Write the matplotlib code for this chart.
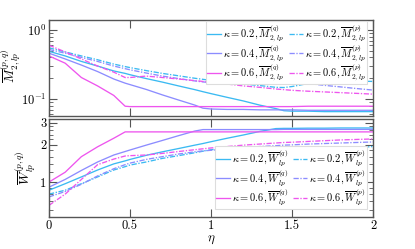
import numpy as np
import matplotlib
matplotlib.use("Agg")
import matplotlib.pyplot as plt
from matplotlib.ticker import FixedLocator, FixedFormatter, LogLocator, NullFormatter

plt.rcParams.update({
    "font.family": "serif",
    "font.serif": ["cmr10"],
    "mathtext.fontset": "cm",
    "axes.formatter.use_mathtext": True,
    "font.size": 9,
})

eta = [0, 0.1, 0.2, 0.3, 0.4, 0.47, 0.5, 0.6, 0.7, 0.8, 0.9, 0.95, 1.0,
       1.1, 1.2, 1.3, 1.4, 1.45, 1.5, 1.6, 1.7, 1.8, 1.9, 2.0]

# top panel: M_{2,lp}
M_q02 = [0.49, 0.42, 0.35, 0.30, 0.255, 0.235, 0.225, 0.198, 0.176, 0.155, 0.137, 0.128, 0.120,
         0.106, 0.094, 0.082, 0.073, 0.068, 0.067, 0.067, 0.066, 0.066, 0.066, 0.066]
M_q04 = [0.46, 0.38, 0.31, 0.25, 0.195, 0.17, 0.162, 0.138, 0.115, 0.097, 0.082, 0.074, 0.072,
         0.071, 0.071, 0.070, 0.070, 0.070, 0.070, 0.069, 0.069, 0.069, 0.069, 0.069]
M_q06 = [0.42, 0.33, 0.205, 0.155, 0.113, 0.079, 0.078, 0.078, 0.078, 0.078, 0.078, 0.078, 0.078,
         0.078, 0.078, 0.078, 0.078, 0.078, 0.078, 0.079, 0.079, 0.079, 0.079, 0.079]
M_p02 = [0.55, 0.48, 0.42, 0.37, 0.32, 0.295, 0.285, 0.258, 0.235, 0.217, 0.200, 0.193, 0.186,
         0.175, 0.165, 0.157, 0.148, 0.147, 0.152, 0.168, 0.178, 0.181, 0.182, 0.180]
M_p04 = [0.52, 0.46, 0.40, 0.35, 0.30, 0.275, 0.265, 0.238, 0.215, 0.198, 0.183, 0.177, 0.173,
         0.190, 0.205, 0.200, 0.190, 0.185, 0.178, 0.168, 0.158, 0.150, 0.142, 0.135]
M_p06 = [0.60, 0.48, 0.38, 0.30, 0.245, 0.205, 0.205, 0.215, 0.205, 0.195, 0.185, 0.180, 0.175,
         0.165, 0.155, 0.148, 0.140, 0.137, 0.134, 0.130, 0.127, 0.124, 0.121, 0.118]

# bottom panel: W_{lp}
W_q02 = [0.86, 0.97, 1.10, 1.25, 1.40, 1.48, 1.52, 1.64, 1.75, 1.86, 1.98, 2.04, 2.11,
         2.25, 2.39, 2.55, 2.69, 2.70, 2.70, 2.71, 2.71, 2.72, 2.72, 2.72]
W_q04 = [0.91, 1.05, 1.24, 1.45, 1.65, 1.76, 1.81, 1.98, 2.16, 2.36, 2.57, 2.64, 2.64,
         2.64, 2.64, 2.64, 2.64, 2.65, 2.65, 2.65, 2.65, 2.65, 2.65, 2.65]
W_q06 = [1.00, 1.20, 1.60, 1.92, 2.25, 2.53, 2.53, 2.53, 2.53, 2.53, 2.53, 2.53, 2.53,
         2.53, 2.53, 2.53, 2.53, 2.53, 2.53, 2.53, 2.53, 2.53, 2.53, 2.53]
W_p02 = [0.80, 0.86, 0.97, 1.10, 1.25, 1.33, 1.37, 1.45, 1.55, 1.63, 1.72, 1.77, 1.82,
         1.88, 1.87, 1.84, 1.82, 1.81, 1.80, 1.78, 1.79, 1.84, 1.89, 1.93]
W_p04 = [0.76, 0.84, 0.96, 1.12, 1.28, 1.38, 1.42, 1.52, 1.60, 1.68, 1.75, 1.78, 1.80,
         1.85, 1.89, 1.93, 1.96, 1.98, 1.99, 2.02, 2.04, 2.06, 2.08, 2.10]
W_p06 = [0.65, 0.80, 1.05, 1.38, 1.53, 1.62, 1.63, 1.65, 1.70, 1.76, 1.82, 1.85, 1.88,
         1.93, 1.98, 2.02, 2.06, 2.08, 2.09, 2.12, 2.15, 2.18, 2.20, 2.22]

kappas = ["0.2", "0.4", "0.6"]
colors = ["#3bbaf2", "#8c8cff", "#ee55ee"]
xticks = [0, 0.5, 1, 1.5, 2]
xticklabels = ["0", "0.5", "1", "1.5", "2"]

fig = plt.figure(figsize=(4.15, 2.49), dpi=100)
ax1 = fig.add_axes([0.118, 0.534, 0.781, 0.386])
ax2 = fig.add_axes([0.118, 0.1285, 0.781, 0.3935])

frame_c = "#555555"
dd = (0, (4, 1.2, 1, 1.2))

for ax in (ax1, ax2):
    ax.set_yscale("log")
    ax.set_xlim(0, 2)
    ax.set_xticks(xticks)
    for s in ax.spines.values():
        s.set_color(frame_c)
        s.set_linewidth(1.0)
    ax.tick_params(which="both", direction="in", top=True, right=True, color=frame_c, pad=2)
    ax.tick_params(which="major", length=6, width=0.8)
    ax.tick_params(which="minor", length=3, width=0.6)

Mq = [M_q02, M_q04, M_q06]
Mp = [M_p02, M_p04, M_p06]
for k, c, y in zip(kappas, colors, Mq):
    ax1.plot(eta, y, color=c, lw=0.95, label=r"$\kappa = %s, \overline{M}^{(q)}_{2,lp}$" % k)
for k, c, y in zip(kappas, colors, Mp):
    ax1.plot(eta, y, color=c, lw=0.95, ls=dd, label=r"$\kappa = %s, \overline{M}^{(p)}_{2,lp}$" % k)

Wq = [W_q02, W_q04, W_q06]
Wp = [W_p02, W_p04, W_p06]
for k, c, y in zip(kappas, colors, Wq):
    ax2.plot(eta, y, color=c, lw=0.95, label=r"$\kappa = %s, \overline{W}^{(q)}_{lp}$" % k)
for k, c, y in zip(kappas, colors, Wp):
    ax2.plot(eta, y, color=c, lw=0.95, ls=dd, label=r"$\kappa = %s, \overline{W}^{(p)}_{lp}$" % k)

ax1.set_ylim(0.057, 1.39)
ax1.set_xticklabels([])
ax1.yaxis.set_minor_locator(LogLocator(base=10, subs=np.arange(2, 10) * 0.1, numticks=10))
ax1.yaxis.set_minor_formatter(NullFormatter())
ax1.set_ylabel(r"$\overline{M}^{(p,q)}_{2,lp}$", fontsize=9.5)
ax1.yaxis.set_label_coords(-0.08, 0.52)

ax2.set_ylim(0.524, 3.21)
ax2.yaxis.set_major_locator(FixedLocator([1, 2, 3]))
ax2.yaxis.set_major_formatter(FixedFormatter(["1", "2", "3"]))
ax2.yaxis.set_minor_locator(FixedLocator([0.6, 0.7, 0.8, 0.9, 1.2, 1.4, 1.6, 1.8, 2.2, 2.4, 2.6, 2.8]))
ax2.yaxis.set_minor_formatter(NullFormatter())
ax2.set_xticklabels(xticklabels)
ax2.set_ylabel(r"$\overline{W}^{(p,q)}_{lp}$", fontsize=9.5)
ax2.yaxis.set_label_coords(-0.034, 0.5)
ax2.set_xlabel(r"$\eta$", fontsize=9.5, labelpad=1)

leg_kw = dict(ncol=2, fontsize=7.5, handlelength=1.3, handletextpad=0.2, columnspacing=0.5,
              labelspacing=-0.1, borderpad=0.15, fancybox=False,
              edgecolor="#dddddd", framealpha=1.0)
l1 = ax1.legend(loc="upper right", bbox_to_anchor=(0.982, 0.985), borderaxespad=0, **leg_kw)
l2 = ax2.legend(loc="lower right", bbox_to_anchor=(0.982, 0.085), borderaxespad=0, **leg_kw)
for l in (l1, l2):
    l.get_frame().set_linewidth(0.8)

fig.savefig("out.png", dpi=100)
